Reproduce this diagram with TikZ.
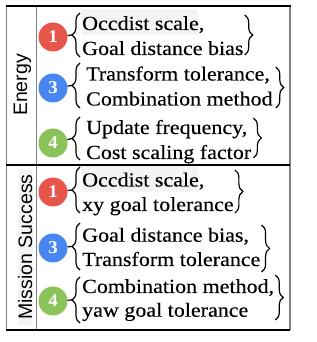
\documentclass[tikz,border=0pt]{standalone}
\usepackage{fontspec}
\setmainfont[FakeStretch=1.1,FakeBold=0.3]{Liberation Serif}
\newfontfamily\labfont{Liberation Sans}
\newfontfamily\numfont[FakeStretch=1.05]{Liberation Serif}
\usetikzlibrary{decorations.pathreplacing,calc}
\definecolor{cred}{RGB}{232,86,75}
\definecolor{cblue}{RGB}{74,134,240}
\definecolor{cgreen}{RGB}{139,194,90}
\definecolor{hl}{RGB}{244,244,244}
\begin{document}
\begin{tikzpicture}[x=1pt,y=1pt,
 txt/.style={font=\fontsize{20}{24}\selectfont, inner sep=0pt, anchor=base west},
 num/.style={circle, minimum size=29pt, inner sep=0pt, text=white, font=\numfont\fontsize{18}{18}\selectfont\bfseries},
 lbr/.style={decorate, decoration={brace, amplitude=8pt}, line width=1.2pt},
 rbr/.style={decorate, decoration={brace, amplitude=8pt}, line width=1.2pt},
 conn/.style={line width=1.2pt},
 lab/.style={font=\labfont\fontsize{19.5}{20}\selectfont, rotate=90, anchor=base, inner sep=0pt},
 vline/.style={draw=gray, line width=1.1pt},
 hline/.style={draw=black, line width=1.3pt}]
\useasboundingbox (0,0) rectangle (316,342);
\fill[white] (0,0) rectangle (316,342);
% faint highlights
\fill[hl] (82,307) rectangle (198,333);
\fill[hl] (82,150) rectangle (198,176);
\fill[hl] (18,17) rectangle (33,172);
% table rules
\draw[vline] (6.5,12) -- (6.5,336);
\draw[vline] (36.5,12) -- (36.5,336);
\draw[vline] (290,12) -- (290,336);
\draw[hline, line width=2pt] (5.5,336) -- (291,336);
\draw[hline] (6,177) -- (290,177);
\draw[hline] (6,12) -- (290,12);
% row labels
\node[lab] (energy) at (27,257) {Energy};
\node[lab] (mission) at (32,95) {Mission Success};
% ---- Energy ----
\node[num, fill=cred] (c1) at (53,305) {1};
\node[txt] (e1a) at (82,312) {Occdist scale,};
\node[txt] (e1b) at (82,287) {Goal distance bias};
\draw[lbr] (80,285) -- (80,329);
\coordinate (t1) at (72,307);
\draw[conn] (c1) -- (t1);
\draw[rbr] let \p1=(e1a.east), \p2=(e1b.east) in ({max(\x1,\x2)+1pt},327pt) -- ({max(\x1,\x2)+1pt},287pt);

\node[num, fill=cblue] (c2) at (53,254) {3};
\node[txt] (e2a) at (86,261.5) {Transform tolerance,};
\node[txt] (e2b) at (86,236.5) {Combination method};
\draw[lbr] (80,234) -- (80,279);
\coordinate (t2) at (72,256.5);
\draw[conn] (c2) -- (t2);
\draw[rbr] let \p1=(e2a.east), \p2=(e2b.east) in ({max(\x1,\x2)+3pt},275pt) -- ({max(\x1,\x2)+3pt},234pt);

\node[num, fill=cgreen] (c3) at (53,199) {4};
\node[txt] (e3a) at (86,208) {Update frequency,};
\node[txt] (e3b) at (86,183) {Cost scaling factor};
\draw[lbr] (80,182) -- (80,225);
\coordinate (t3) at (72,203.5);
\draw[conn] (c3) -- (t3);
\draw[rbr] let \p1=(e3a.east), \p2=(e3b.east) in ({max(\x1,\x2)+2pt},224pt) -- ({max(\x1,\x2)+2pt},184pt);

% ---- Mission Success ----
\node[num, fill=cred] (c4) at (53,150) {1};
\node[txt] (m1a) at (82,155.5) {Occdist scale,};
\node[txt] (m1b) at (82,131) {xy goal tolerance};
\draw[lbr] (80,129) -- (80,175);
\coordinate (t4) at (72,152);
\draw[conn] (c4) -- (t4);
\draw[rbr] let \p1=(m1a.east), \p2=(m1b.east) in ({max(\x1,\x2)+1pt},172pt) -- ({max(\x1,\x2)+1pt},129pt);

\node[num, fill=cblue] (c5) at (53,94) {3};
\node[txt] (m2a) at (82,100.3) {Goal distance bias,};
\node[txt] (m2b) at (82,76) {Transform tolerance};
\draw[lbr] (80,72) -- (80,119);
\coordinate (t5) at (72,95.5);
\draw[conn] (c5) -- (t5);
\draw[rbr] let \p1=(m2a.east), \p2=(m2b.east) in ({max(\x1,\x2)+1pt},117pt) -- ({max(\x1,\x2)+1pt},70pt);

\node[num, fill=cgreen] (c6) at (53,41) {4};
\node[txt] (m3a) at (82,49) {Combination method,};
\node[txt] (m3b) at (82,25.3) {yaw goal tolerance};
\draw[lbr] (80,19) -- (80,65);
\coordinate (t6) at (72,42);
\draw[conn] (c6) -- (t6);
\draw[rbr] let \p1=(m3a.east), \p2=(m3b.east) in ({max(\x1,\x2)+1pt},67pt) -- ({max(\x1,\x2)+1pt},22pt);
\end{tikzpicture}
\end{document}
